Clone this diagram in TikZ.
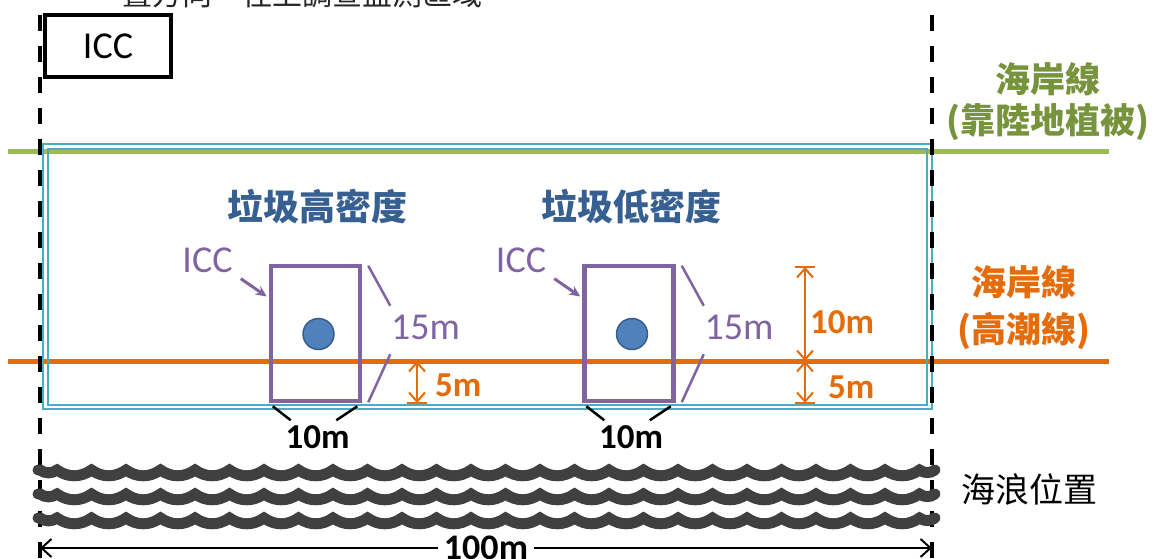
\documentclass[tikz,border=0pt]{standalone}
\usepackage{fontspec}
\setmainfont{Carlito}
\newfontfamily\cjk{Noto Sans CJK TC}
\usetikzlibrary{arrows.meta,positioning}
\definecolor{shoregreen}{HTML}{9BBB59}
\definecolor{shoretext}{HTML}{77933C}
\definecolor{tideorange}{HTML}{E46C0A}
\definecolor{surveycyan}{HTML}{4BACC6}
\definecolor{plotpurple}{HTML}{8064A2}
\definecolor{titleblue}{HTML}{376092}
\definecolor{dotblue}{HTML}{4F81BD}
\definecolor{dotedge}{HTML}{385D8A}
\tikzset{
  shoreline/.style={line width=5pt},
  survey/.style={draw=surveycyan, line width=1.4pt},
  boundary/.style={line width=3.5pt, dash pattern=on 16pt off 15pt},
  plotbox/.style={draw=plotpurple, line width=4.5pt, minimum width=89pt, minimum height=135pt, inner sep=0pt},
  plotdot/.style={circle, draw=dotedge, line width=1.5pt, fill=dotblue, minimum size=31pt, inner sep=0pt},
  densitytitle/.style={text=titleblue, font=\cjk\bfseries\fontsize{36}{36}\selectfont},
  latinlbl/.style={inner sep=0pt, font=\fontsize{38}{38}\selectfont},
  boldlbl/.style={inner sep=0pt, font=\bfseries\fontsize{35}{35}\selectfont},
  iccarrow/.style={draw=plotpurple, line width=3pt, -{Stealth[length=11pt,width=10pt]}},
  pointer/.style={line width=2.5pt},
  dimarrow/.style={draw=tideorange, line width=2pt, {Straight Barb[length=9pt,width=16pt]}-{Straight Barb[length=9pt,width=16pt]}},
  dimtick/.style={draw=tideorange, line width=2.5pt},
  sidelabel/.style={align=center, font=\cjk\bfseries\fontsize{35}{41}\selectfont},
  wave/.style={draw=black!75, line width=11pt, line cap=round, line join=miter},
}
\begin{document}
\begin{tikzpicture}[x=1pt,y=-1pt]
  \clip (0,0) rectangle (1156,559);
  \coordinate (LT) at (40,15);
  \coordinate (LB) at (40,559);
  \coordinate (RT) at (932,15);
  \coordinate (RB) at (932,559);
  \coordinate (L) at (40,548);
  \coordinate (R) at (932,548);

  % caption, cut off by the page edge
  \node[anchor=base west, inner sep=0pt, text=black!85, font=\cjk\fontsize{30}{30}\selectfont] (cap) at (122,6) {置方向　往上調查監測區域};

  % shore lines
  \draw[shoreline, shoregreen] (8,151) -- (1109,151);
  \draw[shoreline, tideorange] (8,361) -- (1109,361);

  % survey area
  \draw[survey] (43,144) rectangle (932,409);
  \draw[survey] (48,149) rectangle (927,405);

  % 100 m boundaries
  \draw[boundary] (LT) -- (LB);
  \draw[boundary] (RT) -- (RB);

  \node[draw, line width=3.5pt, minimum width=126pt, minimum height=62pt, font=\fontsize{38}{38}\selectfont] (icc) at (108,46) {ICC};

  \foreach \i/\cx/\dens in {1/315.5/垃圾高密度, 2/629/垃圾低密度}
  {
    \node[plotbox] (box\i) at (\cx,333.5) {};
    \node[plotdot] (dot\i) at (\cx+3,334) {};
    \node[densitytitle] (title\i) at (\cx+2,207) {\dens};
    \node[latinlbl, text=plotpurple] (icc\i) at (\cx-108,260) {ICC};
    \node[latinlbl, text=plotpurple] (len\i) at (\cx+110,327) {15m};
    \node[boldlbl] (wid\i) at (\cx+2,437) {10m};
    \draw[iccarrow] ([shift={(8,6)}]icc\i.south east) -- ([shift={(-2,-37)}]box\i.west);
    \draw[pointer, plotpurple] ([shift={(6,2)}]box\i.north east) -- ([shift={(28,42)}]box\i.north east);
    \draw[pointer, plotpurple] ([shift={(28,-49)}]box\i.south east) -- ([shift={(6,-1)}]box\i.south east);
    \draw[pointer] ([shift={(4,3)}]box\i.south west) -- ([shift={(22,17)}]box\i.south west);
    \draw[pointer] ([shift={(-26,17)}]box\i.south east) -- ([shift={(-5,3)}]box\i.south east);
  }

  % distances from the high tide line
  \coordinate (d10) at (805,267);
  \coordinate (dmid) at (805,361);
  \coordinate (d5) at (805,403);
  \coordinate (s5top) at (417,361);
  \coordinate (s5) at (417,403);
  \draw[dimarrow] (d10) -- (dmid);
  \draw[dimarrow] (dmid) -- (d5);
  \draw[dimarrow] (s5top) -- (s5);
  \draw[dimtick] ([xshift=-10pt]d10) -- ([xshift=10pt]d10);
  \draw[dimtick] ([xshift=-10pt]d5) -- ([xshift=10pt]d5);
  \draw[dimtick] ([xshift=-10pt]s5) -- ([xshift=10pt]s5);
  \node[boldlbl, text=tideorange, anchor=west] (h10) at (810,322) {10m};
  \node[boldlbl, text=tideorange, anchor=west] (h5) at (828,387) {5m};
  \node[boldlbl, text=tideorange, anchor=west] (s5lbl) at (435,385) {5m};

  % labels on the right
  \node[sidelabel, text=shoretext] (shoreveg) at (1048,102) {海岸線\\(靠陸地植被)};
  \node[sidelabel, text=tideorange, font=\cjk\bfseries\fontsize{35}{47}\selectfont] (shoretide) at (1024,308) {海岸線\\(高潮線)};
  \node[font=\cjk\fontsize{34}{34}\selectfont] (waves) at (1029,490) {海浪位置};

  % waves
  \foreach \r in {470,494,518}
    \draw[wave] (38,\r) -- (40,\r) to[bend right=35] (57,\r) foreach \k in {1,...,25} { to[bend right=35] ++(34.5,0) } to[bend right=35] (935,\r);

  \draw[line width=2pt, {Straight Barb[length=10pt,width=18pt]}-{Straight Barb[length=10pt,width=18pt]}] (L) -- node[fill=white, inner sep=6pt, font=\bfseries\fontsize{36}{36}\selectfont] (span) {100m} (R);
\end{tikzpicture}
\end{document}
